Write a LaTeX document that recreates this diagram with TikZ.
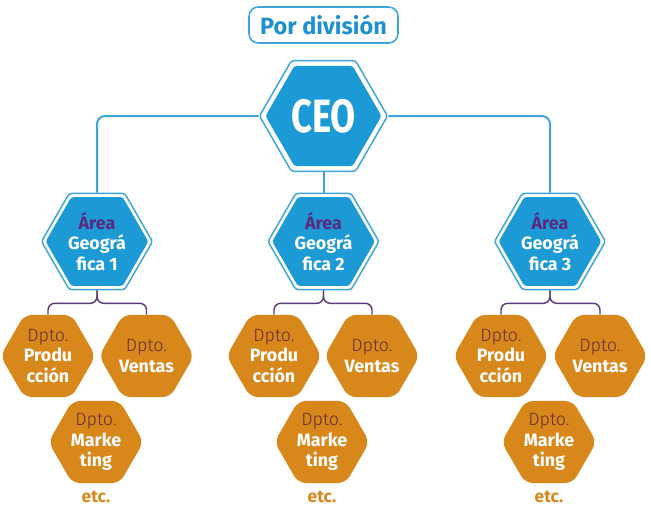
\documentclass[tikz,border=0pt]{standalone}
\usepackage{fontspec}
\usepackage{graphicx}
\setmainfont{Fira Sans}
\newfontfamily\dptofont{Fira Sans Light}
\usetikzlibrary{shapes.geometric}
\definecolor{bluefill}{HTML}{1C9AD6}
\definecolor{blueline}{HTML}{3DA5DC}
\definecolor{orangefill}{HTML}{D8871A}
\definecolor{purpleline}{HTML}{5E3B7B}
\definecolor{areatext}{HTML}{5A2A82}
\definecolor{dptotext}{HTML}{6B2D36}
\definecolor{titletext}{HTML}{1E90CF}
\newcommand{\dptolabel}{{\dptofont\mdseries\color{dptotext}Dpto.}}
\begin{document}
\begin{tikzpicture}[x=0.75pt,y=-0.75pt,
  outerhex/.style={regular polygon, regular polygon sides=6, draw=blueline, line width=1.1pt, fill=white, inner sep=0pt, rounded corners=2pt},
  innerhex/.style={regular polygon, regular polygon sides=6, fill=bluefill, inner sep=0pt, rounded corners=2pt, text=white, align=center},
  areafont/.style={font=\fontsize{13.4}{15.6}\selectfont\bfseries},
  dept/.style={regular polygon, regular polygon sides=6, fill=orangefill, inner sep=0pt, minimum size=71.25pt, rounded corners=6pt, align=center, text=white, font=\fontsize{13.4}{15.6}\selectfont\bfseries},
  etcnode/.style={text=orangefill, font=\fontsize{13}{15}\selectfont\bfseries, inner sep=0pt},
  bconn/.style={draw=blueline, line width=1.5pt, rounded corners=6pt},
  pconn/.style={draw=purpleline, line width=1.1pt, rounded corners=5pt},
  titlebox/.style={draw=blueline, line width=1.2pt, rounded corners=7pt, minimum width=111.75pt, minimum height=27pt, inner sep=0pt, text=titletext, font=\fontsize{17.6}{20}\selectfont\bfseries}
]
\useasboundingbox (0,0) rectangle (651,515);

\node[titlebox] (title) at (323.5,25) {Por división};

% CEO
\node[outerhex, minimum size=96pt] (ceo) at (323.5,116) {};
\node[innerhex, minimum size=87pt, font=\fontsize{35}{40}\selectfont\bfseries] (ceoi) at (ceo.center) {\scalebox{0.78}[1]{CEO}};

% Areas
\foreach \i/\x in {1/97,2/323.5,3/550}{
  \node[outerhex, minimum size=83.25pt] (a\i) at (\x,241.5) {};
  \node[innerhex, minimum size=77pt, areafont] (ai\i) at (a\i.center) {{\color{areatext}Área}\\Geográ\\fica \i};
}

% connectors CEO -> areas
\draw[bconn] (ceo.west) -| (a1.north);
\draw[bconn] (ceo.east) -| (a3.north);
\draw[bconn] (ceo.south) -- (a2.north);

% departments
\foreach \i/\l/\r/\m in {1/48/146.5/96,2/274/372/322,3/501/600/549}{
  \node[dept] (p\i) at (\l,356) {\dptolabel\\Produ\\cción};
  \node[dept] (v\i) at (\r,356) {\dptolabel\\Ventas};
  \node[dept] (m\i) at (\m,442) {\dptolabel\\Marke\\ting};
  \node[etcnode] (e\i) at (\m,497) {etc.};
  \draw[pconn] (a\i.south) -- ++(0,13) -| (p\i.north);
  \draw[pconn] (a\i.south) -- ++(0,13) -| (v\i.north);
}
\end{tikzpicture}
\end{document}
